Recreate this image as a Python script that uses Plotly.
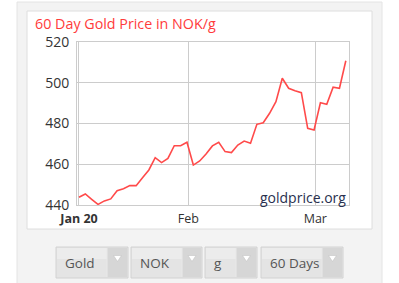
import plotly.graph_objects as go

# ---- data (NOK per gram) ----
prices = [443.8, 445.4, 442.8, 440.3, 442.0, 443.0, 447.0, 448.0, 449.5, 449.5,
          453.4, 457.2, 463.2, 460.8, 462.9, 469.1, 469.1, 470.8, 459.6, 461.6,
          465.0, 469.0, 470.8, 466.2, 465.7, 469.4, 471.4, 470.3, 479.6, 480.4,
          485.0, 490.7, 502.2, 497.3, 496.1, 495.1, 477.6, 476.8, 490.2, 489.4,
          497.8, 497.3, 510.8]
x_tick_labels = ["<b>Jan 20</b>", "Feb", "Mar"]
x_tick_index = [0, 17.2, 37.2]
y_tick_values = [440, 460, 480, 500, 520]

selectors = ["Gold", "NOK", "g", "60 Days"]

W, H = 399, 283
L, R, T, B = 77, 349, 42, 205  # plot area in pixels


def px(x):
    return (x - L) / (R - L)


def py(y):
    return (B - y) / (B - T)


fig = go.Figure()
fig.add_trace(go.Scatter(
    x=list(range(len(prices))), y=prices, mode="lines",
    line=dict(color="#ff4a4a", width=1.6), hoverinfo="skip", showlegend=False))

shapes = []
# outer grey panel
shapes.append(dict(type="rect", xref="paper", yref="paper", layer="below",
                   x0=px(17), x1=px(382), y0=py(300), y1=py(2),
                   fillcolor="#f3f3f3", line=dict(color="#e4e4e4", width=1)))
# inner white box
shapes.append(dict(type="rect", xref="paper", yref="paper", layer="below",
                   x0=px(27), x1=px(372), y0=py(229), y1=py(11),
                   fillcolor="#ffffff", line=dict(color="#dedede", width=1)))

# selector buttons
btns = [(56, 128, 107), (131, 202, 182), (205, 257, 236), (261, 343, 322)]
annotations = []
bt, bb = 247, 278
for (x0, x1, xd), label in zip(btns, selectors):
    shapes.append(dict(type="rect", xref="paper", yref="paper",
                       x0=px(x0), x1=px(x1), y0=py(bb), y1=py(bt),
                       fillcolor="#e4e4e4", line=dict(color="#d2d2d2", width=1)))
    shapes.append(dict(type="rect", xref="paper", yref="paper",
                       x0=px(x0 + 1), x1=px(xd), y0=py(bt + 12), y1=py(bt + 1),
                       fillcolor="#ececec", line=dict(width=0)))
    shapes.append(dict(type="rect", xref="paper", yref="paper",
                       x0=px(xd), x1=px(x1 - 1), y0=py(bb - 1), y1=py(bt + 1),
                       fillcolor="#d6d6d6", line=dict(width=0)))
    shapes.append(dict(type="line", xref="paper", yref="paper",
                       x0=px(xd), x1=px(xd), y0=py(bb - 1), y1=py(bt + 1),
                       line=dict(color="#e9e9e9", width=1)))
    cx = (xd + x1) / 2
    cy = 258
    path = "M {} {} L {} {} L {} {} Z".format(
        px(cx - 4), py(cy - 2.5), px(cx + 4), py(cy - 2.5), px(cx), py(cy + 3.5))
    shapes.append(dict(type="path", xref="paper", yref="paper", path=path,
                       fillcolor="#ffffff", line=dict(color="#c4c4c4", width=0.6)))
    annotations.append(dict(text=label, xref="paper", yref="paper",
                            x=px(x0 + 7), y=py(263), xanchor="left", yanchor="middle",
                            showarrow=False,
                            font=dict(family="Open Sans", size=13.5, color="#555555")))

# title
annotations.append(dict(text="60 Day Gold Price in NOK/g", xref="paper", yref="paper",
                        x=px(33), y=py(24), xanchor="left", yanchor="middle",
                        showarrow=False,
                        font=dict(family="Open Sans", size=14.3, color="#ff3b3b")))
# watermark
annotations.append(dict(text="goldprice.org", xref="paper", yref="paper",
                        x=px(348), y=py(197), xanchor="right", yanchor="middle",
                        showarrow=False,
                        font=dict(family="Open Sans", size=14, color="#28304f")))

fig.update_layout(
    width=W, height=H,
    margin=dict(l=L, r=W - R, t=T, b=H - B, pad=0),
    paper_bgcolor="#ffffff", plot_bgcolor="rgba(0,0,0,0)",
    shapes=shapes, annotations=annotations, showlegend=False,
    xaxis=dict(range=[-0.31, 42.5], tickvals=x_tick_index, ticktext=x_tick_labels,
               showgrid=True, gridcolor="#cccccc", gridwidth=1, zeroline=False,
               showline=True, mirror=True, linecolor="#cccccc", linewidth=1,
               ticks="", ticklabelstandoff=2,
               tickfont=dict(family="Open Sans", size=12.5, color="#333333"),
               fixedrange=True),
    yaxis=dict(range=[440, 520], tickvals=y_tick_values,
               showgrid=True, gridcolor="#cccccc", gridwidth=1, zeroline=False,
               showline=True, mirror=True, linecolor="#cccccc", linewidth=1,
               ticks="", ticklabelstandoff=4,
               tickfont=dict(family="Open Sans", size=14, color="#333333"),
               fixedrange=True),
)

fig.write_html("out.html", config={"displayModeBar": False})
